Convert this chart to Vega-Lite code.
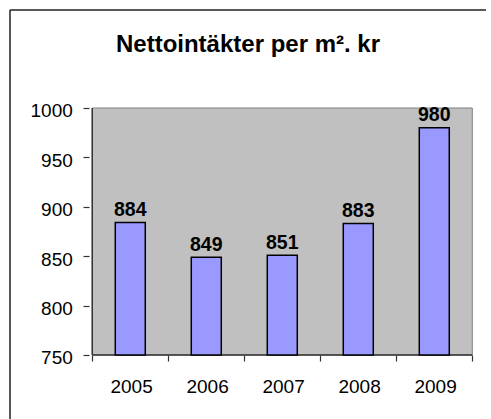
{
  "$schema": "https://vega.github.io/schema/vega-lite/v6.json",
  "autosize": "none",
  "width": 486,
  "height": 409,
  "padding": {"left": 5, "top": 10, "right": 0, "bottom": 0},
  "background": "white",
  "config": {"view": {"stroke": null}, "font": "Liberation Sans"},
  "title": {"text": "Nettointäkter per m². kr", "fontSize": 24, "font": "Liberation Sans", "fontWeight": "bold", "color": "#000000", "offset": -42, "dy": 25, "baseline": "alphabetic", "anchor": "middle"},
  "data": {"values": [
    {"year": 2005, "value": 884},
    {"year": 2006, "value": 849},
    {"year": 2007, "value": 851},
    {"year": 2008, "value": 883},
    {"year": 2009, "value": 980}
  ]},
  "layer": [
    {
      "data": {"values": [{}]},
      "mark": {"type": "rect", "fill": "#C0C0C0", "stroke": "#808080", "strokeWidth": 1},
      "encoding": {
        "x": {
          "datum": 2004.5, "type": "quantitative",
          "scale": {"domain": [2003.4175, 2009.6804], "nice": false, "zero": false},
          "axis": {
            "values": [2004.5, 2005.5, 2006.5, 2007.5, 2008.5, 2009.5],
            "labelExpr": "datum.value < 2009 ? format(datum.value + 0.5, 'd') : ''",
            "labelOffset": 38.8,
            "labelBaseline": "alphabetic",
            "labelPadding": 31.5,
            "offset": -64,
            "tickSize": 6,
            "tickColor": "#333333",
            "tickWidth": 1.2,
            "domain": false,
            "grid": false,
            "labelFlush": false,
            "labelOverlap": false,
            "labelFontSize": 19,
            "labelFont": "Liberation Sans",
            "labelColor": "#000000",
            "title": null
          }
        },
        "x2": {"datum": 2009.5},
        "y": {
          "datum": 750, "type": "quantitative",
          "scale": {"domain": [685.22, 1099.19], "nice": false, "zero": false},
          "axis": {
            "values": [750, 800, 850, 900, 950, 1000],
            "format": "d",
            "offset": -84,
            "domain": false,
            "grid": false,
            "tickSize": 6,
            "tickColor": "#333333",
            "tickWidth": 1.2,
            "labelFontSize": 19,
            "labelFont": "Liberation Sans",
            "labelColor": "#000000",
            "labelPadding": 10.7,
            "labelOffset": 3,
            "title": null
          }
        },
        "y2": {"datum": 1000}
      }
    },
    {
      "data": {"values": [{}]},
      "mark": {"type": "rule", "color": "#333333", "strokeWidth": 1.5},
      "encoding": {
        "x": {"datum": 2004.5, "type": "quantitative"},
        "y": {"datum": 750, "type": "quantitative"},
        "y2": {"datum": 1000}
      }
    },
    {
      "data": {"values": [{}]},
      "mark": {"type": "rule", "color": "#333333", "strokeWidth": 1.5},
      "encoding": {
        "x": {"datum": 2004.5, "type": "quantitative"},
        "x2": {"datum": 2009.5},
        "y": {"datum": 750, "type": "quantitative"}
      }
    },
    {
      "mark": {"type": "bar", "size": 30, "fill": "#9999FF", "stroke": "#000000", "strokeWidth": 1.5},
      "encoding": {
        "x": {"field": "year", "type": "quantitative"},
        "y": {"field": "value", "type": "quantitative"},
        "y2": {"datum": 750}
      }
    },
    {
      "mark": {"type": "text", "baseline": "alphabetic", "dy": -6.5, "fontSize": 19.5, "fontWeight": "bold", "font": "Liberation Sans", "color": "#000000"},
      "encoding": {
        "x": {"field": "year", "type": "quantitative"},
        "y": {"field": "value", "type": "quantitative"},
        "text": {"field": "value", "type": "quantitative", "format": "d"}
      }
    },
    {
      "data": {"values": [{}]},
      "mark": {"type": "rule", "color": "#222222", "strokeWidth": 1.5},
      "encoding": {
        "x": {"datum": 2003.4175, "type": "quantitative"},
        "y": {"datum": 685.22, "type": "quantitative"},
        "y2": {"datum": 1099.19}
      }
    },
    {
      "data": {"values": [{}]},
      "mark": {"type": "rule", "color": "#222222", "strokeWidth": 1.5},
      "encoding": {
        "x": {"datum": 2003.4175, "type": "quantitative"},
        "x2": {"datum": 2009.6804},
        "y": {"datum": 1099.19, "type": "quantitative"}
      }
    }
  ]
}
